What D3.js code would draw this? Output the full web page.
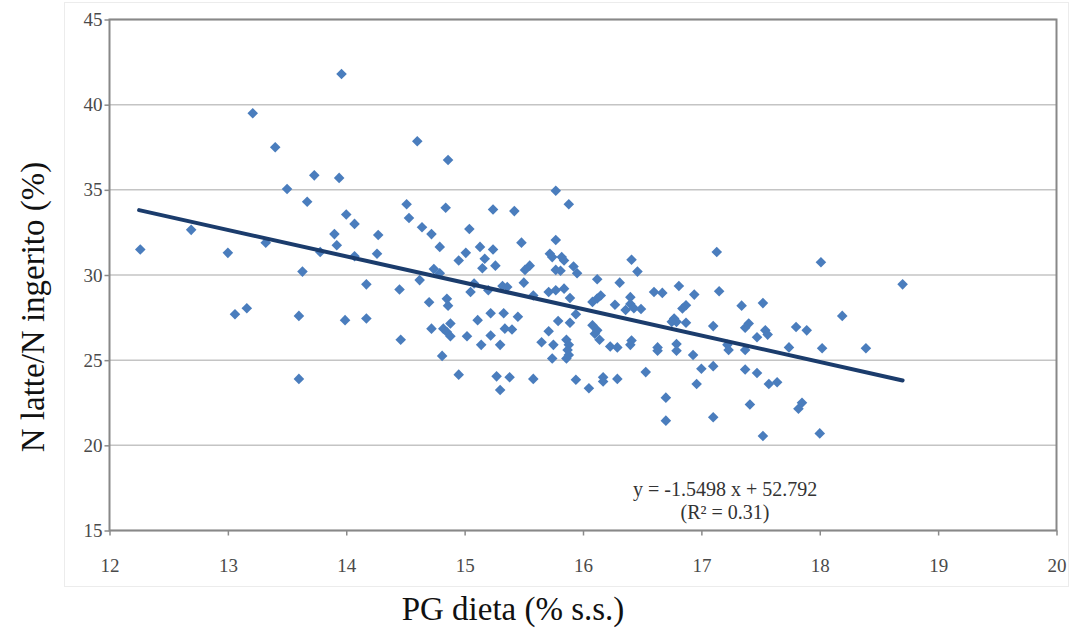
<!DOCTYPE html>
<meta charset="utf-8">
<head>
    <style>
    body { margin: 0; background: #fff; }
    .grid line { stroke: #c4c4c4; stroke-width: 1.5px; }
    .axis path, .axis line { stroke: #8a8a8a; stroke-width: 1.5px; }
    .title { font-family: "Liberation Serif", "Times New Roman", serif; font-size: 33px; fill: #111; }
    .eq { font-family: "Liberation Serif", "Times New Roman", serif; font-size: 20px; fill: #333; }
    .trend { fill: none; stroke: #1b3c6c; stroke-width: 4px; stroke-linecap: round; }
    </style>
</head>
<body>
<script src="https://d3js.org/d3.v7.min.js"></script>
<script>
// tick values of the two axes
var xTicks = [12, 13, 14, 15, 16, 17, 18, 19, 20];
var yTicks = [15, 20, 25, 30, 35, 40, 45];

// PG dieta (% s.s.)
var pgDieta = [
    12.26, 12.69, 13.0, 13.06, 13.16, 13.21, 13.32, 13.40, 13.50, 13.60, 13.60, 13.63, 13.67, 13.73, 13.78,
    13.90, 13.92, 13.94, 13.96, 13.99, 14.0, 14.07, 14.07, 14.17, 14.17, 14.26, 14.27,
    14.60, 14.86, 15.77, 15.88, 14.51, 14.84, 15.24, 15.42, 14.53, 14.64, 14.72, 15.04, 14.79, 15.01,
    14.95, 15.13, 15.24, 15.17, 15.15, 15.26, 15.48, 15.55, 15.51, 15.50, 15.77, 15.72, 15.74, 15.82,
    15.84, 15.77, 15.81, 15.92, 15.95, 16.12, 16.31, 16.41, 16.46, 14.74, 14.79, 14.62, 14.45, 15.05,
    15.08, 15.20, 15.32, 15.36, 15.58, 15.71, 15.77, 15.84, 15.89, 16.15, 16.40,
    14.70, 14.85, 14.86, 16.12, 16.27, 16.40, 16.36, 16.43, 16.49, 16.08,
    14.46, 14.72, 14.82, 14.88, 14.85, 14.88, 14.81, 14.95, 15.02, 15.11, 15.14, 15.22, 15.22, 15.33,
    15.45, 15.34, 15.40, 15.30, 15.27, 15.38, 15.30, 15.58, 15.71, 15.79, 15.65, 15.75, 15.74, 15.86,
    15.88, 15.87, 15.88, 15.86, 15.89, 15.94, 16.05, 16.17, 16.17, 16.29, 16.08, 16.12, 16.10, 16.14,
    16.23, 16.29, 16.41, 16.40, 15.94,
    17.13, 18.01, 18.70, 16.81, 16.60, 16.67, 16.94, 17.15, 17.52, 16.87, 16.84, 16.77, 16.79, 16.75,
    16.87, 17.10, 17.34, 17.40, 17.37, 17.47, 17.54, 17.56, 17.80, 17.89, 18.19, 16.63, 16.63, 16.79,
    16.79, 16.93, 17.22, 17.23, 17.37, 17.74, 18.02, 18.39, 16.53, 17.0, 17.10, 17.37, 17.47, 16.96,
    17.57, 17.64, 16.70, 17.41, 17.82, 17.85, 16.70, 17.10, 17.52, 18.0
];

// N latte/N ingerito (%)
var nRatio = [
    31.5, 32.65, 31.3, 27.7, 28.05, 39.5, 31.9, 37.5, 35.05, 27.6, 23.9, 30.2, 34.3, 35.85, 31.35,
    32.4, 31.75, 35.7, 41.8, 27.35, 33.55, 33.0, 31.1, 29.45, 27.45, 31.25, 32.35,
    37.85, 36.75, 34.95, 34.15, 34.15, 33.95, 33.85, 33.75, 33.35, 32.8, 32.4, 32.7, 31.65, 31.3,
    30.85, 31.65, 31.5, 30.95, 30.4, 30.55, 31.9, 30.55, 30.3, 29.55, 32.05, 31.25, 31.05, 31.05,
    30.85, 30.3, 30.25, 30.5, 30.1, 29.75, 29.55, 30.9, 30.2, 30.35, 30.1, 29.7, 29.15, 29.0,
    29.5, 29.1, 29.35, 29.3, 28.8, 29.0, 29.1, 29.2, 28.65, 28.8, 28.7,
    28.4, 28.6, 28.2, 28.62, 28.25, 28.3, 27.95, 28.05, 28.0, 28.42,
    26.2, 26.85, 26.85, 27.15, 26.65, 26.4, 25.25, 24.15, 26.4, 27.35, 25.9, 27.75, 26.45, 27.75,
    27.55, 26.85, 26.8, 25.9, 24.05, 24.0, 23.25, 23.9, 26.7, 27.3, 26.05, 25.9, 25.1, 26.2,
    25.9, 25.6, 25.3, 25.1, 27.2, 23.85, 23.35, 24.0, 23.75, 23.9, 27.05, 26.75, 26.55, 26.2,
    25.8, 25.75, 26.15, 25.9, 27.7,
    31.35, 30.75, 29.45, 29.35, 29.0, 28.95, 28.85, 29.05, 28.35, 28.22, 28.03, 27.45, 27.25, 27.25,
    27.2, 27.0, 28.2, 27.15, 26.9, 26.35, 26.75, 26.5, 26.95, 26.75, 27.6, 25.75, 25.55, 25.95,
    25.55, 25.3, 25.9, 25.6, 25.6, 25.75, 25.7, 25.7, 24.3, 24.5, 24.65, 24.45, 24.25, 23.6,
    23.6, 23.7, 22.8, 22.4, 22.15, 22.5, 21.45, 21.65, 20.55, 20.7
];

// linear fit printed on the chart, drawn over the range of the data
var trendX = [12.25, 18.7];
var slope = -1.5498, intercept = 52.792;
var eqLines = ["y = -1.5498 x + 52.792", "(R\u00b2 = 0.31)"];

var serif = "'Liberation Serif', 'Times New Roman', serif";

// set the dimensions and margins of the graph
var W = 1071, H = 630;
var margin = { top: 19.5, right: 14.5, bottom: 99.5, left: 109.5 },
    width = W - margin.left - margin.right,
    height = H - margin.top - margin.bottom;

var x = d3.scaleLinear().domain([12, 20]).range([0, width]);
var y = d3.scaleLinear().domain([15, 45]).range([height, 0]);

var root = d3.select("body").append("svg")
    .attr("width", W)
    .attr("height", H);

// light outer border of the chart area
root.append("rect")
    .attr("x", 64.5).attr("y", 2.5)
    .attr("width", W - 67).attr("height", 584)
    .attr("fill", "none")
    .attr("stroke", "#ececec");

var svg = root.append("g")
    .attr("transform", "translate(" + margin.left + "," + margin.top + ")");

// horizontal gridlines
svg.append("g")
    .attr("class", "grid")
    .selectAll("line")
    .data(yTicks)
    .enter().append("line")
    .attr("x1", 0).attr("x2", width)
    .attr("y1", function(d) { return y(d); })
    .attr("y2", function(d) { return y(d); });

// plot border
svg.append("rect")
    .attr("width", width).attr("height", height)
    .attr("fill", "none")
    .attr("stroke", "#888")
    .attr("stroke-width", 2);

function styleTicks(g) {
    g.select(".domain").remove();
    g.selectAll("text")
        .style("font-family", serif)
        .style("font-size", "19px")
        .style("fill", "#4a4a4a");
}

// axes
svg.append("g")
    .attr("class", "axis")
    .attr("transform", "translate(0," + height + ")")
    .call(d3.axisBottom(x).tickValues(xTicks).tickSize(5).tickPadding(23).tickSizeOuter(0))
    .call(styleTicks);

svg.append("g")
    .attr("class", "axis")
    .call(d3.axisLeft(y).tickValues(yTicks).tickSize(5).tickPadding(2).tickSizeOuter(0))
    .call(styleTicks);

// data points, diamonds
var pts = pgDieta.map(function(d, i) { return { x: d, y: nRatio[i] }; });
svg.append("g")
    .selectAll("path")
    .data(pts)
    .enter().append("path")
    .attr("d", d3.symbol().type(d3.symbolSquare).size(56))
    .attr("transform", function(d) { return "translate(" + x(d.x) + "," + y(d.y) + ") rotate(45)"; })
    .attr("fill", "#4a7dbd");

// trend line
var line = d3.line()
    .x(function(d) { return x(d); })
    .y(function(d) { return y(slope * d + intercept); });
svg.append("path")
    .datum(trendX)
    .attr("class", "trend")
    .attr("d", line);

// equation
svg.append("g")
    .selectAll("text")
    .data(eqLines)
    .enter().append("text")
    .attr("class", "eq")
    .attr("x", x(17.2))
    .attr("y", function(d, i) { return y(15.7) - 23 + i * 23; })
    .attr("text-anchor", "middle")
    .text(function(d) { return d; });

// axis titles
root.append("text")
    .attr("class", "title")
    .attr("x", 513)
    .attr("y", 620)
    .attr("text-anchor", "middle")
    .text("PG dieta (% s.s.)");

root.append("text")
    .attr("class", "title")
    .attr("transform", "translate(44,307) rotate(-90)")
    .attr("text-anchor", "middle")
    .text("N latte/N ingerito (%)");
</script>
</body>
